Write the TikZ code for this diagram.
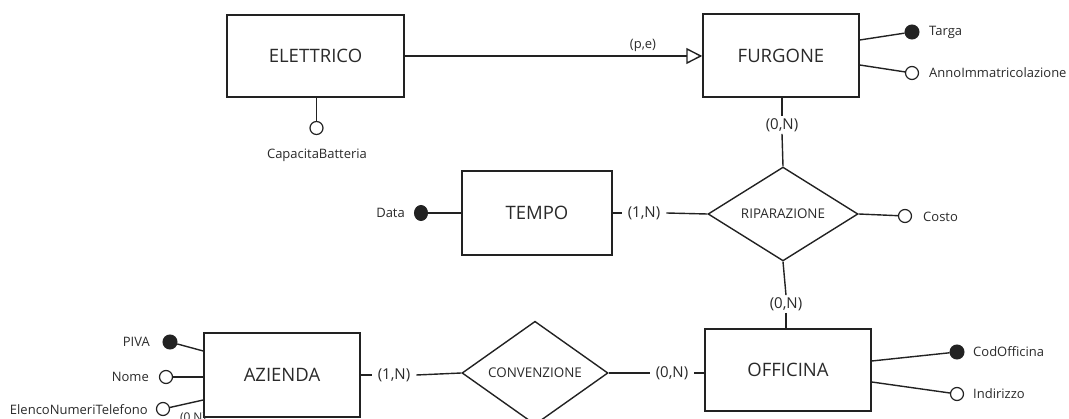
\documentclass[tikz,border=0pt]{standalone}
\usepackage{fontspec}
\setmainfont{Open Sans}
\usetikzlibrary{shapes.geometric,arrows.meta,calc}
\definecolor{ink}{HTML}{222222}
\definecolor{txt}{HTML}{2A2A2A}
\tikzset{
  entity/.style={draw=ink, line width=1.5pt, rectangle, inner sep=0pt, text=txt, font=\fontsize{18.5}{22}\selectfont},
  relation/.style={draw=ink, line width=1.4pt, diamond, inner sep=0pt, text=txt, font=\fontsize{13.4}{16}\selectfont},
  keyattr/.style={circle, fill=ink, draw=ink, line width=1pt, minimum size=14pt, inner sep=0pt},
  attr/.style={circle, fill=white, draw=ink, line width=1.2pt, minimum size=13pt, inner sep=0pt},
  atext/.style={text=txt, font=\fontsize{13}{15}\selectfont, inner sep=0pt},
  card/.style={text=txt, font=\fontsize{15}{18}\selectfont, inner sep=5pt},
  conn/.style={draw=ink, line width=1.4pt},
}
\begin{document}
\begin{tikzpicture}[x=1pt, y=-1pt]
\useasboundingbox (0,0) rectangle (1069,419);
\clip (0,0) rectangle (1069,419);
% entities
\node[entity, minimum width=177pt, minimum height=82pt] (elettrico) at (315.5,56) {ELETTRICO};
\node[entity, minimum width=156pt, minimum height=83pt] (furgone) at (781,55.5) {FURGONE};
\node[entity, minimum width=150pt, minimum height=84pt] (tempo) at (537,213) {TEMPO};
\node[entity, minimum width=166pt, minimum height=82pt] (officina) at (788,370) {OFFICINA};
\node[entity, minimum width=156pt, minimum height=84pt] (azienda) at (282,375) {AZIENDA};
% relations
\node[relation, minimum width=150pt, minimum height=82pt] (ripa) at (783,214) {RIPARAZIONE};
\node[relation, minimum width=146pt, minimum height=80pt] (conv) at (535,373) {CONVENZIONE};
% generalization
\draw[conn, -{Triangle[open, length=16pt, width=16pt, line width=1.4pt]}] (elettrico.east) -- (furgone.west |- elettrico.east);
\node[text=txt, font=\fontsize{13}{15}\selectfont] (pe) at (643,45) {(p,e)};
% cardinalities
\node[card, inner ysep=2pt] (c1) at (782,125) {(0,N)};
\draw[conn] (furgone.south -| c1) -- (c1.north);
\draw[conn] (c1.south) -- (ripa.north);
\node[card, inner ysep=2pt] (c2) at (786,304) {(0,N)};
\draw[conn] (ripa.south) -- (c2.north);
\draw[conn] (c2.south) -- (officina.north -| c2);
\node[card, inner xsep=6pt] (c3) at (644,213) {(1,N)};
\draw[conn] (tempo.east) -- (c3.west);
\draw[conn] (c3.east) -- (ripa.west);
\node[card, inner xsep=6pt] (c4) at (394,375) {(1,N)};
\draw[conn] (azienda.east) -- (c4.west);
\draw[conn] (c4.east) -- (conv.west);
\node[card, inner xsep=6pt] (c5) at (672,373) {(0,N)};
\draw[conn] (conv.east) -- (c5.west);
\draw[conn] (c5.east) -- (officina.west |- c5);
\node[text=txt, font=\fontsize{12}{14}\selectfont, inner sep=0pt] (c6) at (193,418) {(0,N)};
% attributes of FURGONE
\node[keyattr] (targa) at (912,32) {};
\node[atext, anchor=west] (targaT) at (929,32) {Targa};
\draw[conn] ([yshift=15.5pt]furgone.east) -- (targa);
\node[attr] (anno) at (912,73) {};
\node[atext, anchor=west] (annoT) at (929,73) {AnnoImmatricolazione};
\draw[conn] ([yshift=-9.5pt]furgone.east) -- (anno);
% ELETTRICO
\node[attr] (capa) at (316.5,128) {};
\node[atext] (capaT) at (317,155) {CapacitaBatteria};
\draw[conn] (elettrico.south -| capa) -- (capa);
% TEMPO
\node[keyattr, minimum width=13pt, minimum height=15pt, ellipse] (data) at (421,213) {};
\node[atext, anchor=east] (dataT) at (405,213) {Data};
\draw[conn] (data) -- (tempo.west);
% RIPARAZIONE
\node[attr] (costo) at (905,216) {};
\node[atext, anchor=west] (costoT) at (923,217) {Costo};
\draw[conn] (ripa.east) -- (costo);
% OFFICINA
\node[keyattr] (cod) at (957,352) {};
\node[atext, anchor=west] (codT) at (973,352) {CodOfficina};
\draw[conn] ([yshift=9pt]officina.east) -- (cod);
\node[attr] (ind) at (957,394) {};
\node[atext, anchor=west] (indT) at (973,394) {Indirizzo};
\draw[conn] ([yshift=-12pt]officina.east) -- (ind);
% AZIENDA
\node[keyattr] (piva) at (170,342) {};
\node[atext, anchor=east] (pivaT) at (150,342) {PIVA};
\draw[conn] (piva) -- ([yshift=24pt]azienda.west);
\node[attr] (nome) at (166,377) {};
\node[atext, anchor=east] (nomeT) at (149,377) {Nome};
\draw[conn] (nome) -- ([yshift=-2pt]azienda.west);
\node[attr] (elenco) at (163,409) {};
\node[atext, anchor=east] (elencoT) at (148,410) {ElencoNumeriTelefono};
\draw[conn] (elenco) -- ([yshift=-25pt]azienda.west);
\end{tikzpicture}
\end{document}
